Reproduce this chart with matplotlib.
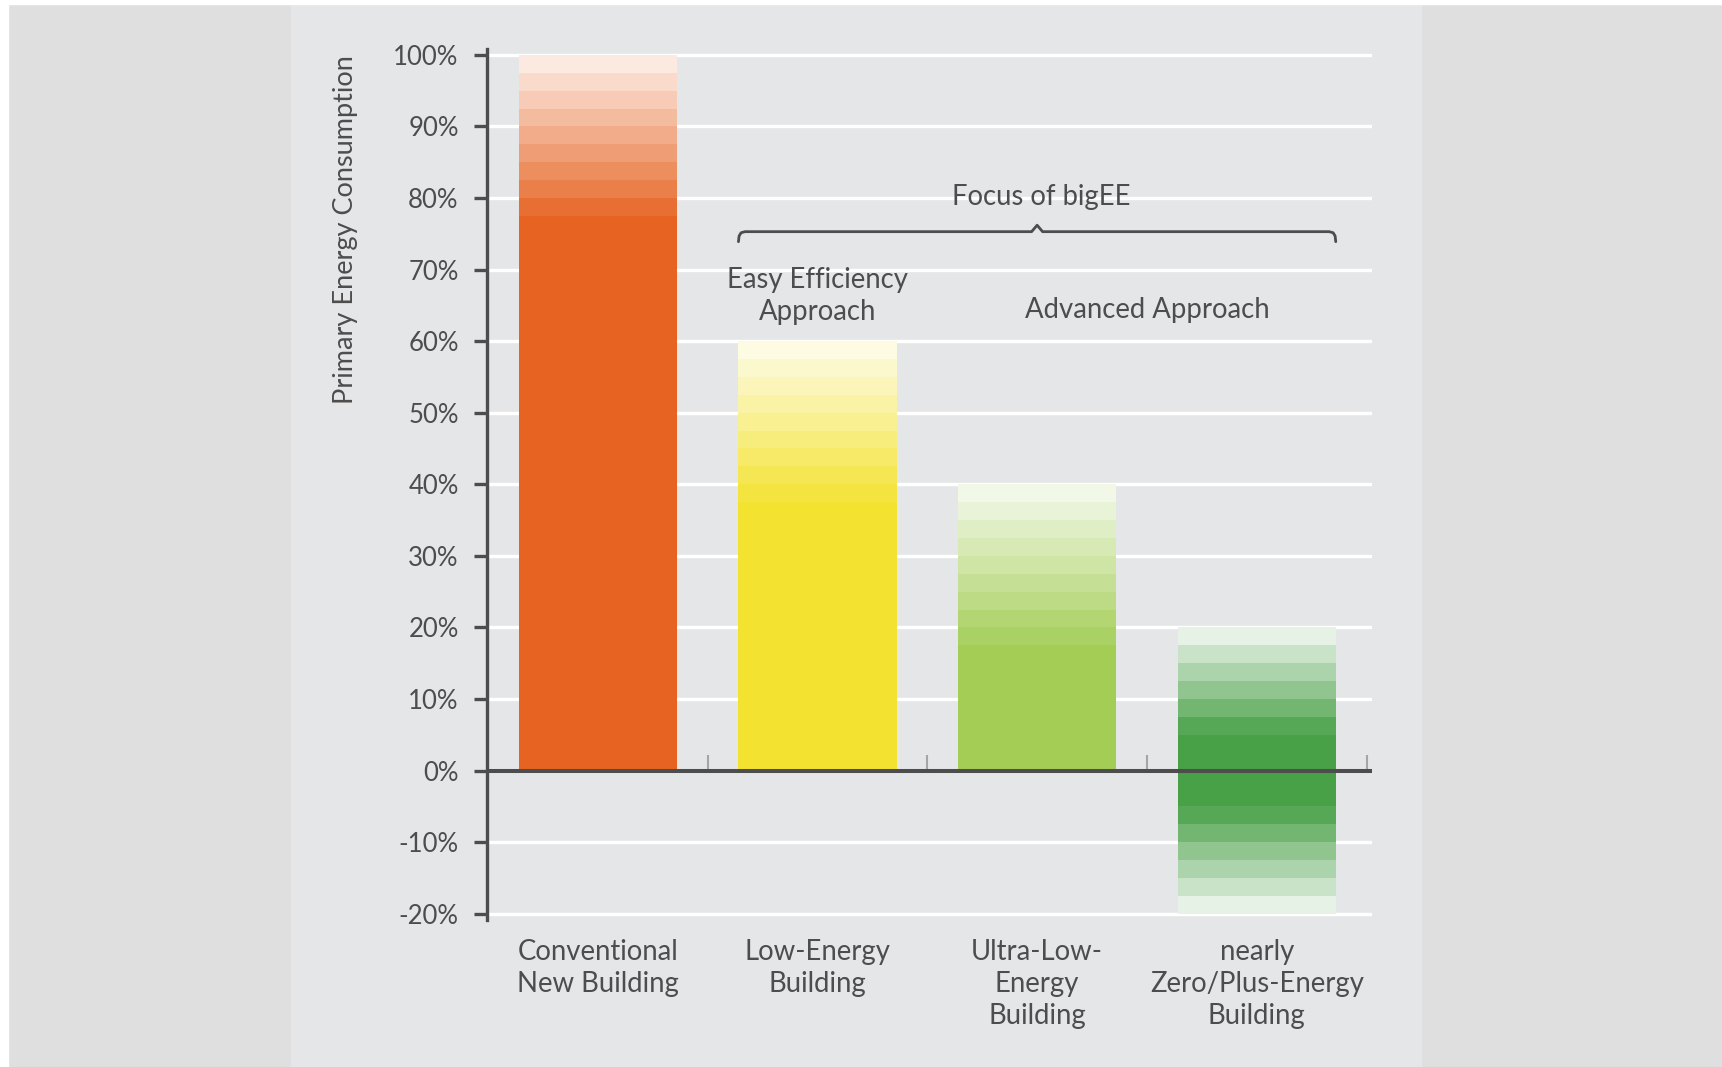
import matplotlib.pyplot as plt
from matplotlib.patches import Rectangle
from matplotlib.colors import to_rgb

plt.rcParams['font.family'] = ['Lato', 'DejaVu Sans']

# data
categories = ['Conventional\nNew Building', 'Low-Energy\nBuilding',
              'Ultra-Low-\nEnergy\nBuilding', 'nearly\nZero/Plus-Energy\nBuilding']
tops = [100, 60, 40, 20]
bottoms = [0, 0, 0, -20]
fade_bands = [9, 9, 9, 6]      # 2.5% steps fading out at the open end(s)
band_step = 2.5
yticks = [-20, -10, 0, 10, 20, 30, 40, 50, 60, 70, 80, 90, 100]

base_colors = ['#e66322', '#f3e22f', '#a3cd55', '#48a047']
txt = '#4d4d4d'
W, H = 1722, 1067


def tint(c, f):
    r, g, b = to_rgb(c)
    return (1 - f + f * r, 1 - f + f * g, 1 - f + f * b)


fig = plt.figure(figsize=(W / 100, H / 100), dpi=100, facecolor='#dfdfdf')
# backdrop panels
fig.add_artist(Rectangle((291 / W, 0), (1421 - 291) / W, 1, color='#e5e6e8',
                         transform=fig.transFigure, zorder=-2))
fig.add_artist(Rectangle((0, 1 - 4 / H), 1, 4 / H, color='white',
                         transform=fig.transFigure, zorder=-1))
fig.add_artist(Rectangle((0, 0), 8 / W, 1, color='white',
                         transform=fig.transFigure, zorder=-1))

ax = fig.add_axes([487 / W, 0.1377, (1372 - 487) / W, 0.8162])
ax.patch.set_visible(False)
ax.set_xlim(-0.505, 3.525)
ax.set_ylim(-20.9, 100.8)

bw = 0.72
for i in range(len(categories)):
    n = fade_bands[i]
    lo = bottoms[i] + (n * band_step if bottoms[i] < 0 else 0)
    hi = tops[i] - n * band_step
    ax.bar(i, hi - lo, bottom=lo, width=bw, color=base_colors[i],
           linewidth=0, antialiased=False, zorder=2)
    for j in range(n):
        f = 0.92 - j * (0.92 - 0.14) / (n - 1)
        c = tint(base_colors[i], f)
        ax.bar(i, band_step, bottom=hi + j * band_step, width=bw, color=c,
               linewidth=0, antialiased=False, zorder=2)
        if bottoms[i] < 0:
            ax.bar(i, band_step, bottom=lo - (j + 1) * band_step, width=bw,
                   color=c, linewidth=0, antialiased=False, zorder=2)

# grid, zero line, separators
for v in yticks:
    if v != 0:
        ax.axhline(v, color='white', lw=2.4, zorder=1)
ax.axhline(0, color='#4d4d4d', lw=2.9, zorder=4)
ax.vlines([0.5, 1.5, 2.5, 3.5], 0, 2.2, color='#a5a5a5', lw=1.5, zorder=3)

for s in ['top', 'right', 'bottom']:
    ax.spines[s].set_visible(False)
ax.spines['left'].set_linewidth(2.4)
ax.spines['left'].set_color('#4d4d4d')
ax.spines['left'].set_zorder(5)

ax.set_yticks(yticks)
ax.set_yticklabels([f'{v}%' for v in yticks])
ax.tick_params(axis='y', length=9.4, width=2.4, color='#4d4d4d', pad=11,
               labelsize=18.5, labelcolor=txt)
ax.set_xticks(range(len(categories)))
ax.set_xticklabels(categories, linespacing=1.28)
ax.tick_params(axis='x', length=0, pad=13.5, labelsize=19.8, labelcolor=txt)

fig.text(345 / W, 0.9486, 'Primary Energy Consumption', rotation=90,
         ha='center', va='top', fontsize=19.5, color=txt)

# bigEE focus brace over bars 1..3
xl = 1 - bw / 2
xr = 3 + bw / 2
xm = (xl + xr) / 2
yb = 75.3
brace_x = [xl, xl + 0.003, xl + 0.012, xl + 0.03, xm - 0.025, xm, xm + 0.025,
           xr - 0.03, xr - 0.012, xr - 0.003, xr]
brace_y = [73.9, 74.7, 75.15, yb, yb, 76.2, yb, yb, 75.15, 74.7, 73.9]
ax.plot(brace_x, brace_y, color=txt, lw=2.0, solid_joinstyle='round',
        solid_capstyle='round', zorder=4)
ax.text(xm + 0.02, 80.2, 'Focus of bigEE', ha='center', va='center',
        fontsize=19.8, color=txt, zorder=6)
ax.text(1, 66.3, 'Easy Efficiency\nApproach', ha='center', va='center',
        fontsize=19.8, color=txt, linespacing=1.28, zorder=6)
ax.text(2.5, 64.4, 'Advanced Approach', ha='center', va='center',
        fontsize=19.8, color=txt, zorder=6)

fig.savefig('out.png', dpi=100, facecolor=fig.get_facecolor())
